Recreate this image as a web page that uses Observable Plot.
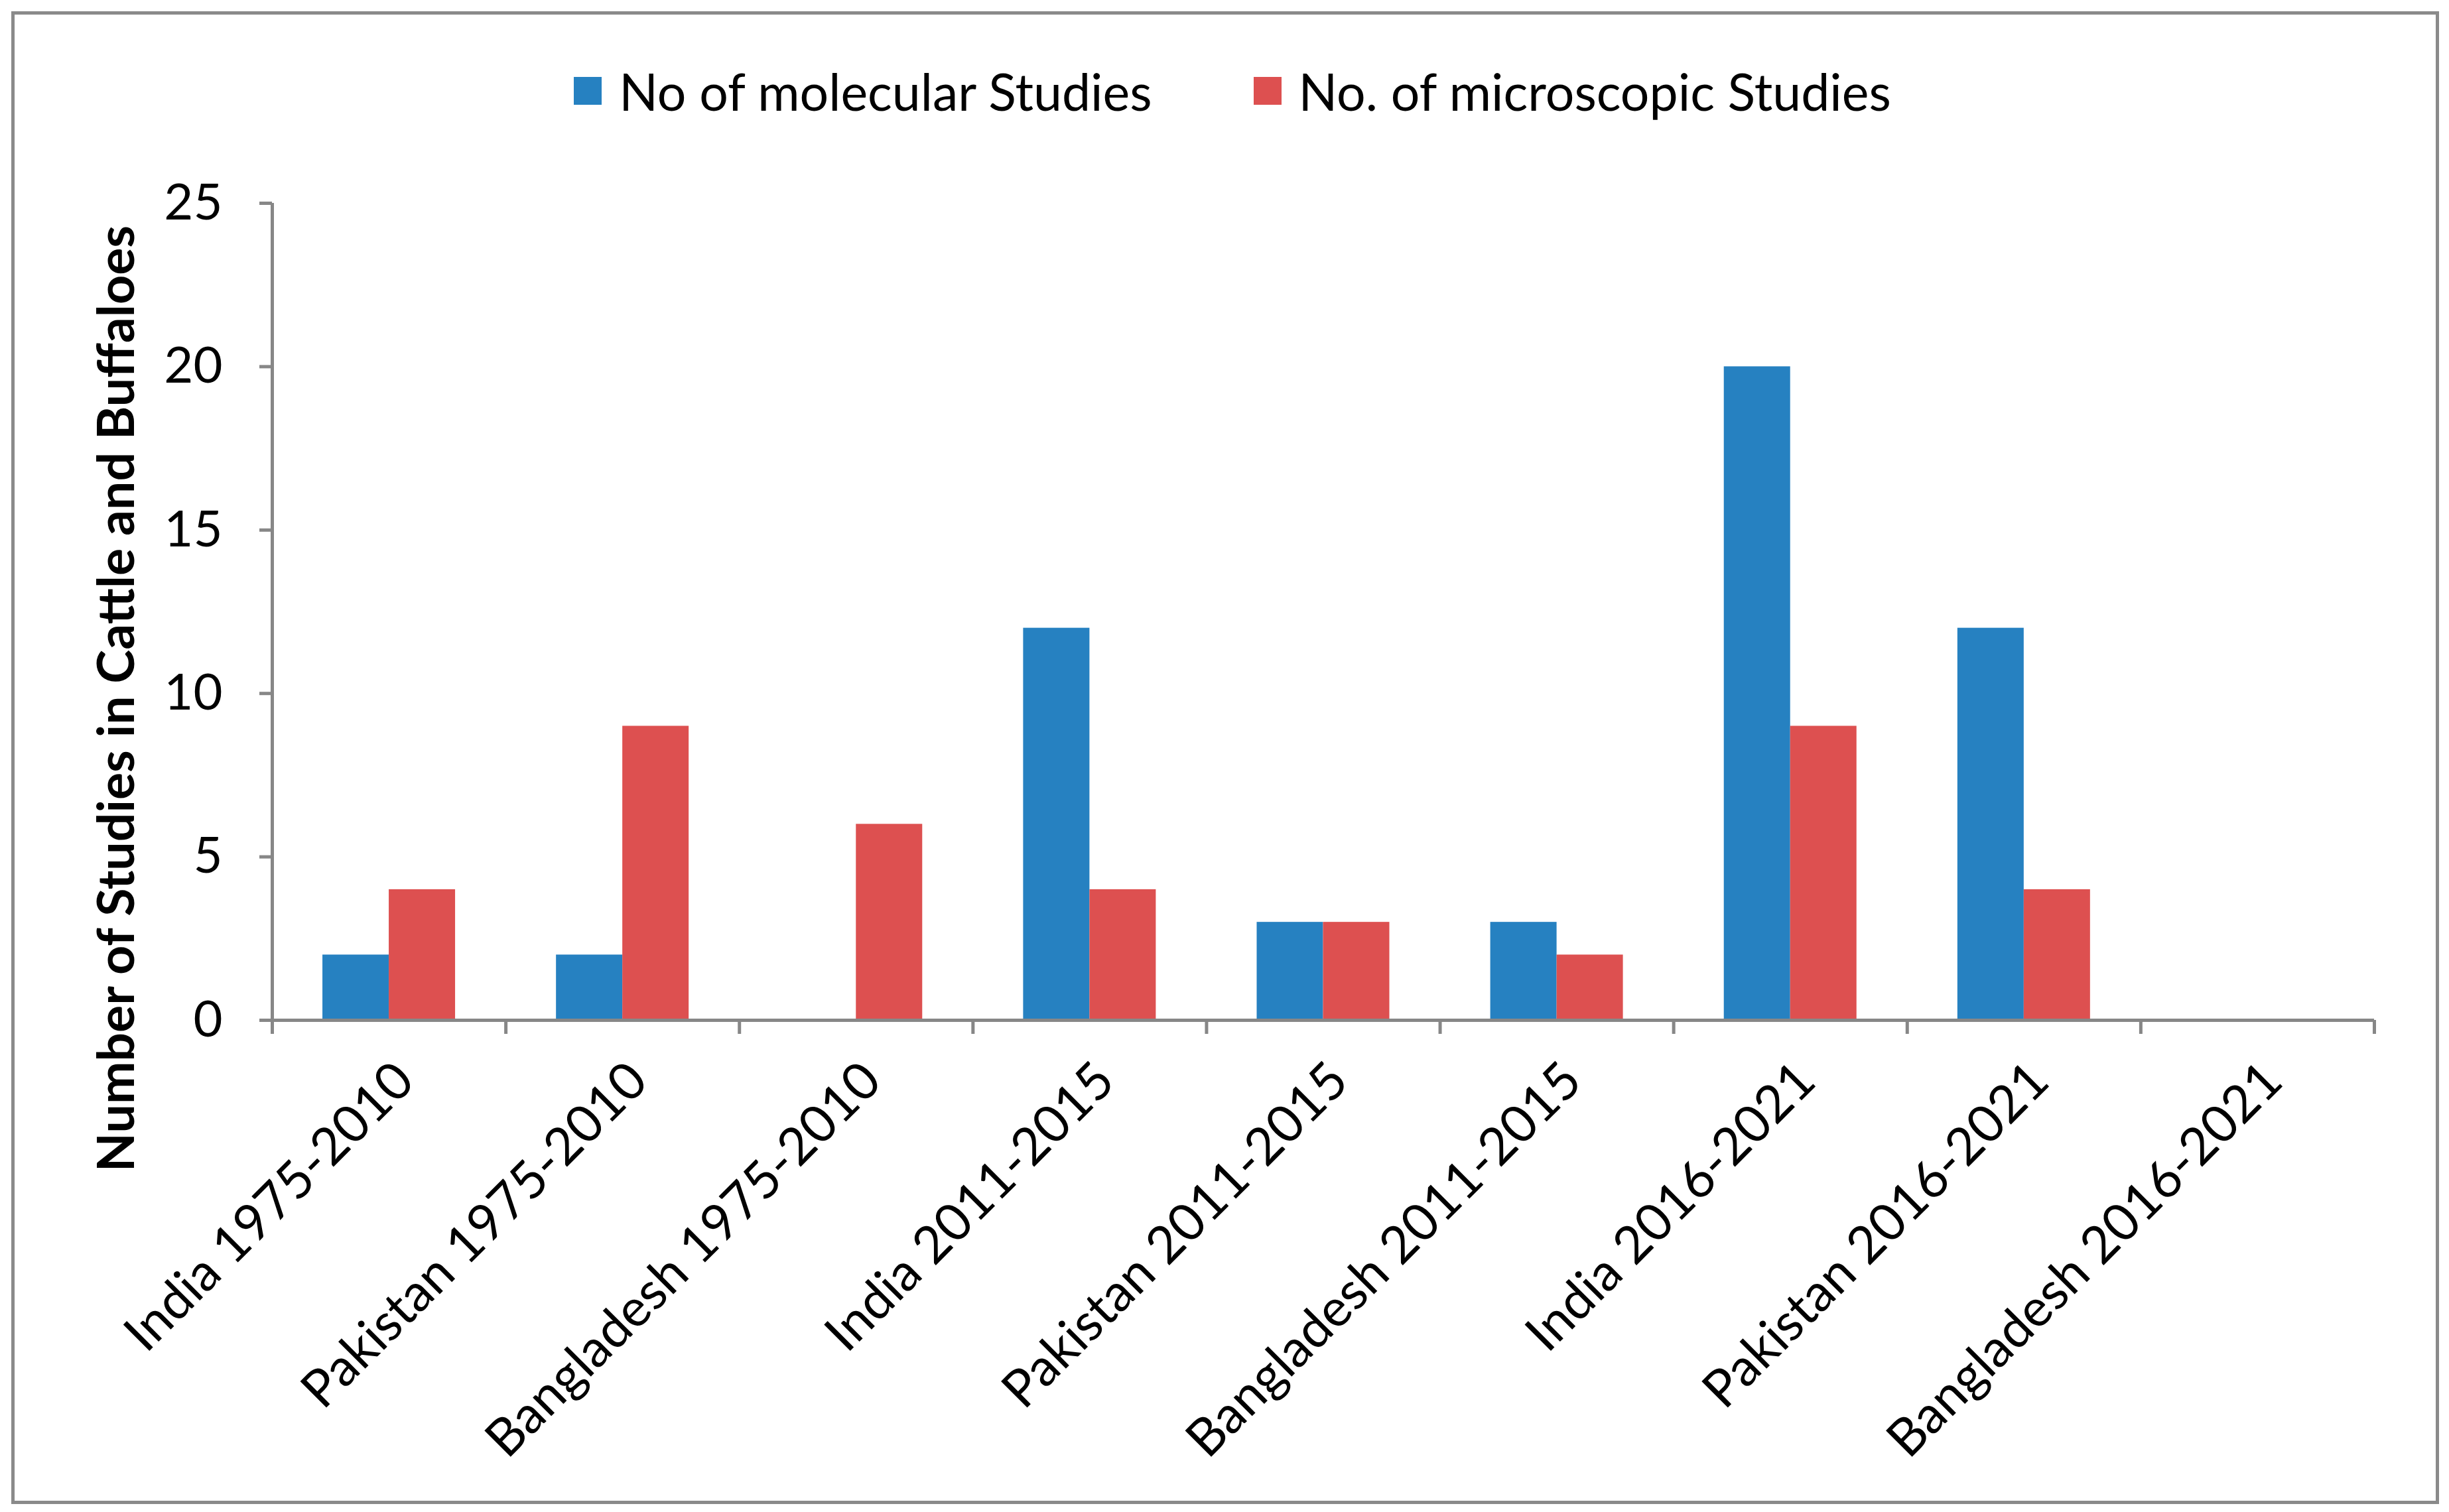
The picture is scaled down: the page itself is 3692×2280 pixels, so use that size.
<!DOCTYPE html>
<html>
<head>
<meta charset="utf-8">
<script src="https://cdn.jsdelivr.net/npm/d3@7"></script>
<script src="https://cdn.jsdelivr.net/npm/@observablehq/plot@0.6"></script>
<style>
  html, body { margin: 0; padding: 0; background: #fff; }
  body { width: 3692px; height: 2280px; position: relative; overflow: hidden; font-family: Lato, "Open Sans", sans-serif; }
  #frame { position: absolute; left: 17px; top: 17px; width: 3660px; height: 2251px; border: 5px solid #8a8a8a; box-sizing: border-box; }
  #legend { position: absolute; left: 0; top: 95px; width: 3692px; height: 84px; padding-left: 24px; box-sizing: border-box; display: flex; justify-content: center; align-items: center; font-size: 77px; color: #000; }
  .item { display: flex; align-items: center; }
  .sw { width: 42px; height: 42px; margin-right: 26px; }
  #chart { position: absolute; left: 0; top: 220px; }
</style>
</head>
<body>
<div id="frame"></div>
<div id="legend"></div>
<div id="chart"></div>
<script>
const categories = ["India 1975-2010", "Pakistan 1975-2010", "Bangladesh 1975-2010", "India 2011-2015", "Pakistan 2011-2015", "Bangladesh 2011-2015", "India 2016-2021", "Pakistan 2016-2021", "Bangladesh 2016-2021"];
const seriesNames = ["No of molecular Studies", "No. of microscopic Studies"];
const molecular = [2, 2, 0, 12, 3, 3, 20, 12, 0];
const microscopic = [4, 9, 6, 4, 3, 2, 9, 4, 0];
const yTicks = [0, 5, 10, 15, 20, 25];
const yTitle = "Number of Studies in Cattle and Buffaloes";

const colors = ["#2681c1", "#dd5050"];
const axisGray = "#878787";
const barFrac = 0.284; // bar width as a fraction of a category step

const rows = [];
categories.forEach((c, i) => {
  rows.push({i, cat: c, series: seriesNames[0], s: 0, value: molecular[i]});
  rows.push({i, cat: c, series: seriesNames[1], s: 1, value: microscopic[i]});
});

// legend
const legend = document.getElementById("legend");
seriesNames.forEach((name, k) => {
  const it = document.createElement("div");
  it.className = "item";
  if (k > 0) it.style.marginLeft = "153px";
  const sw = document.createElement("div");
  sw.className = "sw";
  sw.style.background = colors[k];
  const tx = document.createElement("span");
  tx.textContent = name;
  it.appendChild(sw); it.appendChild(tx);
  legend.appendChild(it);
});

const W = 3692, H = 2030;
const chart = Plot.plot({
  width: W,
  height: H,
  marginLeft: 410,
  marginRight: 113,
  marginTop: 86,
  marginBottom: 712,
  style: {fontFamily: "Lato, 'Open Sans', sans-serif", background: "transparent", overflow: "visible"},
  x: {type: "linear", domain: [0, categories.length], label: null},
  y: {domain: [0, 25], label: null},
  color: {domain: seriesNames, range: colors},
  marks: [
    Plot.rectY(rows, {
      x1: d => d.i + 0.5 + (d.s === 0 ? -barFrac : 0),
      x2: d => d.i + 0.5 + (d.s === 0 ? 0 : barFrac),
      y1: 0,
      y2: "value",
      fill: "series"
    }),
    Plot.ruleY([0], {x1: 0, x2: categories.length, stroke: axisGray, strokeWidth: 5}),
    Plot.ruleX([0], {y1: 0, y2: 25, stroke: axisGray, strokeWidth: 5}),
    Plot.axisY(yTicks, {label: null, tickSize: 19, tickPadding: 56, stroke: axisGray, strokeWidth: 5, fill: "#000", fontSize: 76}),
    Plot.axisX(d3.range(categories.length + 1), {label: null, tickSize: 21, tickFormat: () => "", stroke: axisGray, strokeWidth: 5}),
    Plot.axisX(categories.map((_, i) => i + 0.5), {
      label: null, tickSize: 0, tickPadding: 78, tickRotate: -45, dx: 24,
      tickFormat: d => categories[Math.floor(d)], fill: "#000", fontSize: 78
    }),
    Plot.text([yTitle], {
      text: d => d, frameAnchor: "left", textAnchor: "middle", rotate: -90, dx: -233, dy: 131,
      fontSize: 77, fontWeight: "bold", fill: "#000"
    })
  ]
});
document.getElementById("chart").appendChild(chart);
</script>
</body>
</html>
